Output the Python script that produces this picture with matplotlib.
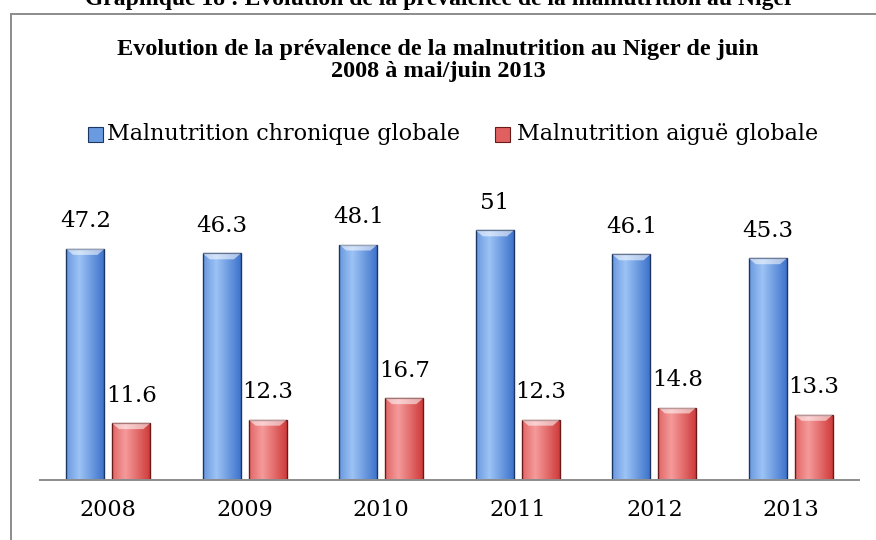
import numpy as np
import matplotlib
matplotlib.use("Agg")
import matplotlib.pyplot as plt
from matplotlib.patches import Rectangle

years = ["2008", "2009", "2010", "2011", "2012", "2013"]
chronique = [47.2, 46.3, 48.1, 51, 46.1, 45.3]
aigue = [11.6, 12.3, 16.7, 12.3, 14.8, 13.3]
labels_chron = ["47.2", "46.3", "48.1", "51", "46.1", "45.3"]
labels_aigue = ["11.6", "12.3", "16.7", "12.3", "14.8", "13.3"]

W, H = 876, 540
fig = plt.figure(figsize=(W / 100, H / 100), dpi=100)

# chart frame (cut off on the right and bottom)
fig.patches.append(Rectangle((11 / W, -0.05), 1.1, (540 - 14) / H + 0.05,
                             transform=fig.transFigure, fill=False,
                             edgecolor="#8c8c8c", linewidth=1.4))

fig.text(440 / W, 1 - 0 / H, "Graphique 18 : Evolution de la prévalence de la malnutrition au Niger",
         ha="center", va="center", fontsize=17, fontweight="bold", family="Liberation Serif")

fig.text(438 / W, 1 - 50 / H, "Evolution de la prévalence de la malnutrition au Niger de juin",
         ha="center", va="center", fontsize=17.5, fontweight="bold", family="Liberation Serif")
fig.text(438 / W, 1 - 72 / H, "2008 à mai/juin 2013",
         ha="center", va="center", fontsize=17.5, fontweight="bold", family="Liberation Serif")

ax = fig.add_axes([40 / W, 60 / H, 819 / W, 0.5437])
x = np.arange(len(years))
bw = 0.278
off = 0.168


def shaded(bars, light, dark, edge):
    grad = np.linspace(0, 1, 64)
    grad = 1 - np.abs(grad - 0.35) / 0.65
    cmap = matplotlib.colors.LinearSegmentedColormap.from_list("g", [dark, light])
    for b in bars:
        b.set_facecolor("none")
        b.set_edgecolor(edge)
        x0, y0 = b.get_x(), b.get_y()
        w, h = b.get_width(), b.get_height()
        im = ax.imshow(grad[None, :], extent=[x0, x0 + w, y0, y0 + h], aspect="auto",
                       cmap=cmap, vmin=0, vmax=1, zorder=1)
        im.set_clip_path(b)
        # top bevel
        ax.fill([x0, x0 + w, x0 + w * 0.82, x0 + w * 0.18],
                [h, h, h - 1.2, h - 1.2], color="white", alpha=0.55, zorder=3, lw=0)


b1 = ax.bar(x - off, chronique, bw, zorder=2, linewidth=1.0)
b2 = ax.bar(x + off, aigue, bw, zorder=2, linewidth=1.0)
shaded(b1, "#9cc3f5", "#3f74cc", "#1c3664")
shaded(b2, "#f59a9a", "#d03c3c", "#6b1a1a")

for xi, v, t in zip(x, chronique, labels_chron):
    ax.text(xi - off, v + 3.4, t, ha="center", va="bottom", fontsize=16.5, family="DejaVu Serif")
for xi, v, t in zip(x, aigue, labels_aigue):
    ax.text(xi + off, v + 3.4, t, ha="center", va="bottom", fontsize=16.5, family="DejaVu Serif")

ax.set_xlim(-0.5, 5.5)
ax.set_ylim(0, 60)
ax.set_xticks(x)
ax.set_xticklabels(years, fontsize=16, family="DejaVu Serif")
ax.tick_params(axis="x", length=0, pad=14)
ax.set_yticks([])
for s in ["top", "right", "left"]:
    ax.spines[s].set_visible(False)
ax.spines["bottom"].set_color("#8c8c8c")
ax.spines["bottom"].set_linewidth(1.4)
ax.patch.set_alpha(0)

# legend
fig.patches.append(Rectangle((88 / W, 1 - 142 / H), 15 / W, 15 / H, transform=fig.transFigure,
                             facecolor="#6a9be0", edgecolor="#1c3664", linewidth=0.8))
fig.text(107 / W, 1 - 134 / H, "Malnutrition chronique globale", ha="left", va="center",
         fontsize=16, family="DejaVu Serif")
fig.patches.append(Rectangle((495 / W, 1 - 142 / H), 15 / W, 15 / H, transform=fig.transFigure,
                             facecolor="#e06060", edgecolor="#6b1a1a", linewidth=0.8))
fig.text(517 / W, 1 - 134 / H, "Malnutrition aiguë globale", ha="left", va="center",
         fontsize=16, family="DejaVu Serif")

fig.savefig("out.png", dpi=100)
